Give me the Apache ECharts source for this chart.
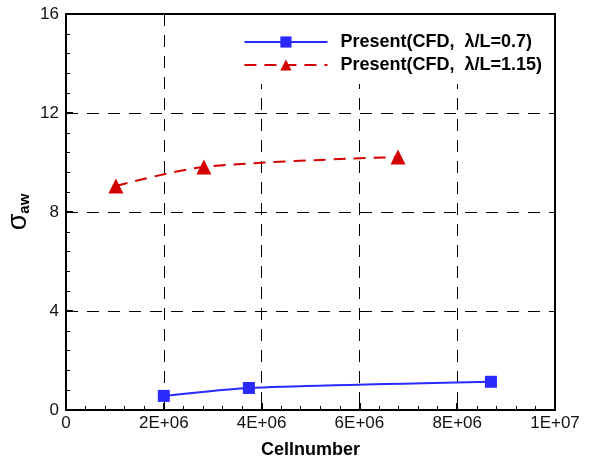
<!DOCTYPE html>
<html>
<head>
   <meta charset="utf-8">
   <title>Cellnumber</title>
   <script type="text/javascript" src="https://cdn.jsdelivr.net/npm/echarts@6/dist/echarts.min.js"></script>
   <style>
      html, body {margin: 0; padding: 0; background: #fff;}
      #chart {width: 594px; height: 459px;}
   </style>
</head>
<body>
<div id="chart"></div>
<script>
   // data
   var blueCells = [2.0e6, 3.74e6, 8.69e6];
   var blueSigma = [0.57, 0.89, 1.14];
   var redCells = [1.02e6, 2.82e6, 6.79e6];
   var redSigma = [9.05, 9.82, 10.22];
   var blueName = 'Present(CFD,  \u03bb/L=0.7)';
   var redName = 'Present(CFD,  \u03bb/L=1.15)';

   function pairs(xs, ys) {
      return xs.map(function (x, i) { return [x, ys[i]]; });
   }
   function sci(v) {
      if (v === 0) return '0';
      var e = Math.floor(Math.log10(v) + 1e-9);
      var m = Math.round(v / Math.pow(10, e));
      return m + 'E+' + (e < 10 ? '0' + e : e);
   }

   var font = 'Liberation Sans, Arial, sans-serif';
   var dash = {color: '#000', width: 1, type: [12, 9]};

   var option = {
      animation: false,
      textStyle: {fontFamily: font},
      grid: {left: 66, right: 39, top: 14, bottom: 49, outerBoundsMode: 'none', show: true, borderColor: '#000', borderWidth: 2},
      legend: {
         orient: 'vertical', right: 40, top: 15,
         backgroundColor: '#fff', padding: [18, 12, 10, 8],
         itemWidth: 83, itemHeight: 14, itemGap: 5,
         textStyle: {fontFamily: font, fontSize: 18, fontWeight: 'bold', color: '#000', padding: [0, 0, 0, 8]},
         data: [blueName, redName]
      },
      xAxis: {
         type: 'value', min: 0, max: 1e7, interval: 2e6,
         name: 'Cellnumber', nameLocation: 'middle', nameGap: 31,
         nameTextStyle: {fontFamily: font, fontSize: 18, fontWeight: 'bold', color: '#000'},
         axisLine: {lineStyle: {color: '#000', width: 2}},
         axisTick: {inside: true, length: 7, lineStyle: {color: '#000', width: 2}},
         minorTick: {show: true, splitNumber: 5, length: 4, lineStyle: {color: '#000', width: 1}},
         axisLabel: {formatter: sci, fontSize: 17, color: '#111', margin: 5},
         splitLine: {show: true, lineStyle: dash}
      },
      yAxis: {
         type: 'value', min: 0, max: 16, interval: 4,
         name: '{s|\u03c3}{sub|aw}', nameLocation: 'middle', nameGap: 34, nameRotate: 90,
         nameMoveOverlap: false,
         nameTextStyle: {
            rich: {
               s: {fontFamily: font, fontSize: 27, color: '#000'},
               sub: {fontFamily: font, fontSize: 15, fontWeight: 'bold', color: '#000', verticalAlign: 'bottom', padding: [12, 0, 0, 0]}
            }
         },
         axisLine: {lineStyle: {color: '#000', width: 2}},
         axisTick: {inside: true, length: 7, lineStyle: {color: '#000', width: 2}},
         minorTick: {show: true, splitNumber: 5, length: 4, lineStyle: {color: '#000', width: 1}},
         axisLabel: {fontSize: 17, color: '#111', margin: 7},
         splitLine: {show: true, lineStyle: dash}
      },
      series: [
         {
            name: blueName, type: 'line', smooth: 0.2,
            data: pairs(blueCells, blueSigma),
            symbol: 'rect', symbolSize: 12,
            lineStyle: {color: '#2a2aff', width: 2},
            itemStyle: {color: '#2a2aff'}
         },
         {
            name: redName, type: 'line', smooth: 0.3,
            data: pairs(redCells, redSigma),
            symbol: 'triangle', symbolSize: 15,
            lineStyle: {color: '#d40000', width: 2, type: [12, 8]},
            itemStyle: {color: '#d40000'}
         }
      ]
   };

   var chart = echarts.init(document.getElementById('chart'));
   chart.setOption(option);
</script>
</body>
</html>
